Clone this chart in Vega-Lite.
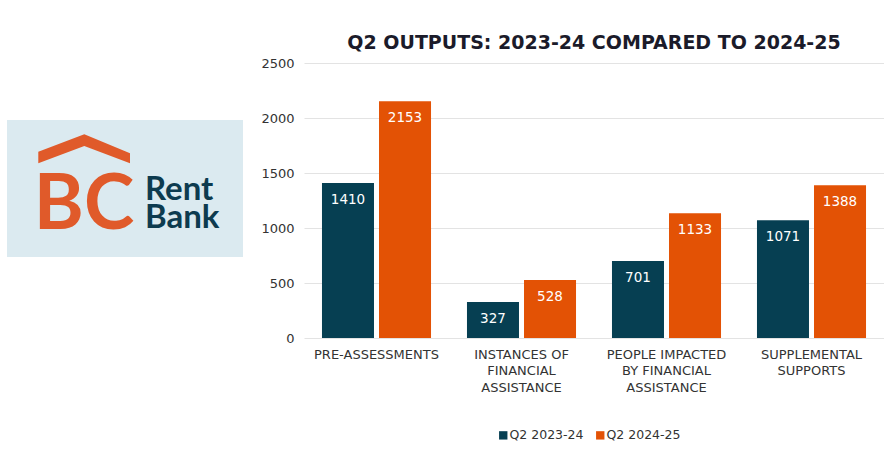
{
  "$schema": "https://vega.github.io/schema/vega-lite/v6.json",
  "background": "white",
  "padding": {"left": 7, "top": 34, "right": 0, "bottom": 0},
  "spacing": 17,
  "config": {"font": "DejaVu Sans", "view": {"stroke": null}},
  "resolve": {"scale": {"color": "independent"}, "legend": {"color": "independent"}},
  "hconcat": [
    {
      "spacing": 20,
      "vconcat": [
        {
          "width": 236,
          "height": 37,
          "data": {"values": [{"logo": ""}]},
          "mark": {"type": "text", "text": ""},
          "encoding": {}
        },
        {
          "width": 236,
          "height": 137,
          "view": {"fill": "#dbeaf0", "stroke": null},
          "data": {"values": [{"logo": "BC Rent Bank"}]},
          "layer": [
            {
              "mark": {"type": "point", "shape": "M-0.867,-0.368 L-0.407,-0.542 L0.05,-0.352 L0.05,-0.252 L-0.407,-0.425 L-0.867,-0.252 Z", "size": 40000, "filled": true, "color": "#e05a2a", "opacity": 1, "strokeWidth": 0},
              "encoding": {}
            },
            {
              "mark": {"type": "text", "text": "BC", "font": "Lato", "fontWeight": "bold", "fontSize": 76, "color": "#e05a2a", "align": "center", "baseline": "alphabetic", "dx": -41, "dy": 40},
              "encoding": {}
            },
            {
              "mark": {"type": "text", "text": ["Rent", "Bank"], "lineHeight": 28, "font": "Lato", "fontWeight": "bold", "fontSize": 33, "color": "#0d3b4f", "align": "left", "baseline": "alphabetic", "dx": 20, "dy": 11.5},
              "encoding": {}
            }
          ]
        }
      ]
    },
    {
      "width": 580,
      "height": 275,
      "title": {"text": "Q2 OUTPUTS: 2023-24 COMPARED TO 2024-25", "fontSize": 19, "fontWeight": "bold", "color": "#1b1b2a", "anchor": "middle", "offset": 4},
      "data": {
        "values": [
          {"category": "PRE-ASSESSMENTS", "period": "Q2 2023-24", "value": 1410},
          {"category": "PRE-ASSESSMENTS", "period": "Q2 2024-25", "value": 2153},
          {"category": "INSTANCES OF FINANCIAL ASSISTANCE", "period": "Q2 2023-24", "value": 327},
          {"category": "INSTANCES OF FINANCIAL ASSISTANCE", "period": "Q2 2024-25", "value": 528},
          {"category": "PEOPLE IMPACTED BY FINANCIAL ASSISTANCE", "period": "Q2 2023-24", "value": 701},
          {"category": "PEOPLE IMPACTED BY FINANCIAL ASSISTANCE", "period": "Q2 2024-25", "value": 1133},
          {"category": "SUPPLEMENTAL SUPPORTS", "period": "Q2 2023-24", "value": 1071},
          {"category": "SUPPLEMENTAL SUPPORTS", "period": "Q2 2024-25", "value": 1388}
        ]
      },
      "encoding": {
        "x": {
          "field": "category", "type": "nominal",
          "sort": ["PRE-ASSESSMENTS", "INSTANCES OF FINANCIAL ASSISTANCE", "PEOPLE IMPACTED BY FINANCIAL ASSISTANCE", "SUPPLEMENTAL SUPPORTS"],
          "scale": {"paddingInner": 0.248, "paddingOuter": 0.124},
          "title": null,
          "axis": {
            "labelAngle": 0, "labelPadding": 10, "labelLineHeight": 16.5, "labelFontSize": 13, "labelColor": "#333333",
            "domain": false, "ticks": false, "labelOverlap": false, "labelBaseline": "top",
            "labelExpr": "datum.label == 'INSTANCES OF FINANCIAL ASSISTANCE' ? ['INSTANCES OF', 'FINANCIAL', 'ASSISTANCE'] : datum.label == 'PEOPLE IMPACTED BY FINANCIAL ASSISTANCE' ? ['PEOPLE IMPACTED', 'BY FINANCIAL', 'ASSISTANCE'] : datum.label == 'SUPPLEMENTAL SUPPORTS' ? ['SUPPLEMENTAL', 'SUPPORTS'] : datum.label"
          }
        },
        "xOffset": {"field": "period", "type": "nominal", "sort": ["Q2 2023-24", "Q2 2024-25"], "scale": {"paddingInner": 0.088}},
        "y": {
          "field": "value", "type": "quantitative",
          "scale": {"domain": [0, 2500]},
          "title": null,
          "axis": {"values": [0, 500, 1000, 1500, 2000, 2500], "format": "d", "grid": true, "gridColor": "#e3e3e3", "domain": false, "ticks": false, "labelPadding": 10, "labelFontSize": 13, "labelColor": "#333333"}
        },
        "color": {
          "field": "period", "type": "nominal",
          "scale": {"domain": ["Q2 2023-24", "Q2 2024-25"], "range": ["#063f52", "#e35205"]},
          "legend": {"orient": "none", "legendX": 193, "legendY": 366, "direction": "horizontal", "title": null, "symbolType": "square", "symbolSize": 70, "labelFontSize": 12.5, "labelColor": "#333333", "columnPadding": 10, "labelOffset": 0}
        }
      },
      "layer": [
        {"mark": {"type": "bar"}},
        {
          "mark": {"type": "text", "dy": 17, "baseline": "middle", "fontSize": 13.5},
          "encoding": {"text": {"field": "value", "type": "quantitative"}, "color": {"value": "white"}}
        }
      ]
    }
  ]
}
